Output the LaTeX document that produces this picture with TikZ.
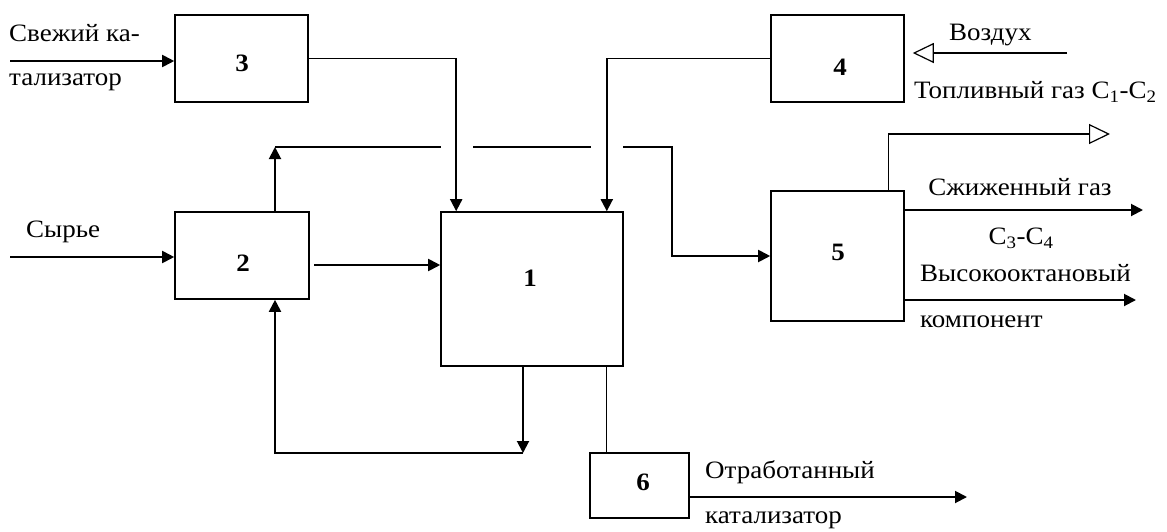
\documentclass[tikz,border=0pt]{standalone}
\usepackage{fontspec}
\setmainfont[FakeStretch=1.08]{Liberation Serif}
\usetikzlibrary{arrows.meta}
\begin{document}
\begin{tikzpicture}[x=1pt,y=-1pt,
  box/.style={draw, line width=1.6pt, inner sep=0pt},
  num/.style={font=\fontsize{25}{27}\selectfont\bfseries, inner sep=0pt},
  lab/.style={font=\fontsize{25}{29}\selectfont, inner sep=0pt},
  arr/.style={line width=1.9pt, -{Triangle[length=12pt,width=12pt]}},
  ln/.style={line width=1.5pt},
  thinln/.style={line width=1.2pt},
  oarr/.style={line width=1.2pt, -{Triangle[open,length=21pt,width=20pt]}}]
\useasboundingbox (0,0) rectangle (1167,531);
% boxes
\node[box, minimum width=133pt, minimum height=87pt] (b3) at (241.5,58.5) {};
\node[box, minimum width=134pt, minimum height=87pt] (b2) at (242,255.5) {};
\node[box, minimum width=182pt, minimum height=154pt] (b1) at (532,289) {};
\node[box, minimum width=133pt, minimum height=87pt] (b4) at (837.5,58.5) {};
\node[box, minimum width=133pt, minimum height=130pt] (b5) at (837.5,256) {};
\node[box, minimum width=99pt, minimum height=65pt] (b6) at (639.5,485.5) {};
% numbers
\node[num] (n3) at (242,63) {3};
\node[num] (n2) at (243,263) {2};
\node[num] (n1) at (530,278) {1};
\node[num] (n4) at (840,67) {4};
\node[num] (n5) at (838,252) {5};
\node[num] (n6) at (643,482) {6};
% texts
\node[lab, anchor=west] (t1) at (9,33) {Свежий ка-};
\node[lab, anchor=west] (t2) at (9,82) {тализатор};
\node[lab, anchor=west] (t3) at (26,232) {Сырье};
\node[lab, anchor=west] (t4) at (949,35) {Воздух};
\node[lab, anchor=west] (t5) at (914,92) {Топливный газ С\textsubscript{1}-С\textsubscript{2}};
\node[lab] (t6) at (1020,187) {Сжиженный газ};
\node[lab] (t7) at (1021,238) {С\textsubscript{3}-С\textsubscript{4}};
\node[lab, anchor=west] (t8) at (920,273) {Высокооктановый};
\node[lab, anchor=west] (t9) at (920,322) {компонент};
\node[lab, anchor=west] (t10) at (705,472) {Отработанный};
\node[lab, anchor=west] (t11) at (705,520) {катализатор};
% coordinates
\coordinate (cat) at (10,61);
\coordinate (air) at (1067,53);
\coordinate (syr) at (10,257);
\coordinate (p21) at (314,265);
\coordinate (c2) at (275,147);
\coordinate (g1) at (441,147);
\coordinate (g2) at (473,147);
\coordinate (g3) at (591,147);
\coordinate (g4) at (623,147);
\coordinate (c5) at (672,147);
\coordinate (lp) at (523,453);
\coordinate (o6) at (967,497);
\coordinate (o51) at (1143,210);
\coordinate (o52) at (1136,300);
\coordinate (o53) at (1110,134);
% connectors
\draw[arr] (cat) -- (cat -| b3.west);
\draw[arr] (b3.east) -| ([xshift=16pt]b1.north west);
\draw[arr] (b4.west) -| ([xshift=-17pt]b1.north east);
\draw[oarr] (air) -- ([xshift=8pt]air -| b4.east);
\draw[arr] (syr) -- (syr -| b2.west);
\draw[arr] (p21) -- (p21 -| b1.west);
\draw[arr] (c2 |- b2.north) -- (c2);
\draw[ln] (c2) -- (g1);
\draw[ln] (g2) -- (g3);
\draw[arr] (g4) -- (c5) |- (b5.west);
\draw[arr] (lp |- b1.south) -- (lp);
\draw[arr] (lp) -| (c2 |- b2.south);
\draw[thinln] ([xshift=-17pt]b1.south east) -- ([xshift=-17pt]b1.south east |- b6.north);
\draw[arr] (o6 -| b6.east) -- (o6);
\draw[arr] (o51 -| b5.east) -- (o51);
\draw[arr] (o52 -| b5.east) -- (o52);
\draw[oarr] ([xshift=-16pt]b5.north east) |- (o53);
\end{tikzpicture}
\end{document}
